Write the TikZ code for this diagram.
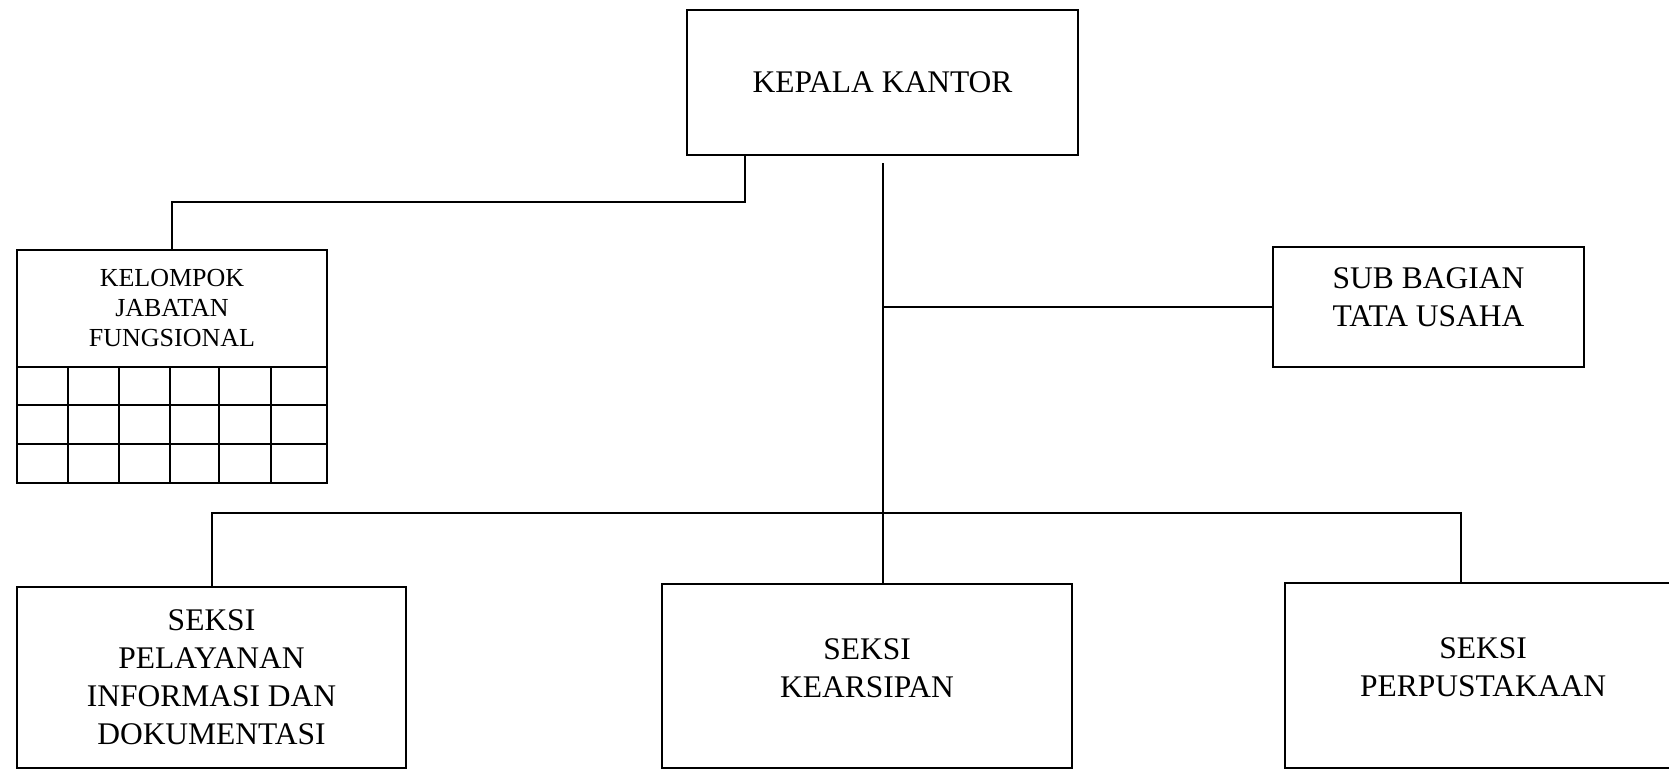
\documentclass[tikz,border=0pt]{standalone}
\usepackage{fontspec}
\setmainfont{Liberation Serif}
\begin{document}
\begin{tikzpicture}[x=0.5pt,y=-0.5pt,
  line width=1pt,
  unit/.style={draw, rectangle, inner sep=0pt, align=center,
    font=\fontsize{15.75}{19}\selectfont},
  txt/.style={inner sep=0pt, align=center, font=\fontsize{15.75}{19}\selectfont},
  small/.style={inner sep=0pt, align=center, font=\fontsize{13}{15}\selectfont},
  link/.style={draw, line width=1pt}]
\useasboundingbox (0,0) rectangle (1669,771);
\clip (0,0) rectangle (1669,771);

% Kepala Kantor
\node[unit, minimum width=195.5pt, minimum height=72.5pt] (kk) at (882.5,82.5) {KEPALA KANTOR};

% Kelompok Jabatan Fungsional
\node[draw, rectangle, inner sep=0pt, minimum width=155pt, minimum height=58.5pt] (kjf) at (172,308.5) {};
\node[small] at ([yshift=0.3pt]kjf.center) {KELOMPOK\\JABATAN\\FUNGSIONAL};
\draw (17,367) rectangle (327,483);
\foreach \yy in {405,444} \draw (17,\yy) -- (327,\yy);
\foreach \xx in {68,119,170,219,271} \draw (\xx,367) -- (\xx,483);

% Sub Bagian Tata Usaha
\node[draw, rectangle, inner sep=0pt, minimum width=155.5pt, minimum height=60pt] (sbtu) at (1428.5,307) {};
\node[txt] at ([yshift=5pt]sbtu.center) {SUB BAGIAN\\TATA USAHA};

% Seksi boxes
\node[unit, minimum width=194.5pt, minimum height=90.5pt] (spid) at (211.5,677.5)
  {SEKSI\\PELAYANAN\\INFORMASI DAN\\DOKUMENTASI};
\node[draw, rectangle, inner sep=0pt, minimum width=205pt, minimum height=92pt] (sk) at (867,676) {};
\node[txt] at ([yshift=4pt]sk.center) {SEKSI\\KEARSIPAN};
\node[draw, rectangle, inner sep=0pt, minimum width=198pt, minimum height=92.5pt] (sp) at (1483,675.5) {};
\node[txt] at ([yshift=4pt]sp.center) {SEKSI\\PERPUSTAKAAN};

% connectors
\coordinate (j1) at (745,202);
\draw[link] (kk.south -| j1) -- (j1) -| (kjf.north);

\coordinate (cx) at (883,163);
\draw[link] (cx) -- (cx |- sk.north);
\draw[link] (cx |- sbtu.west) -- (sbtu.west);

\coordinate (bus) at (883,513);
\coordinate (spc) at ([xshift=-11pt]sp.north);
\draw[link] (spid.north) |- (bus) -| (spc);
\end{tikzpicture}
\end{document}
